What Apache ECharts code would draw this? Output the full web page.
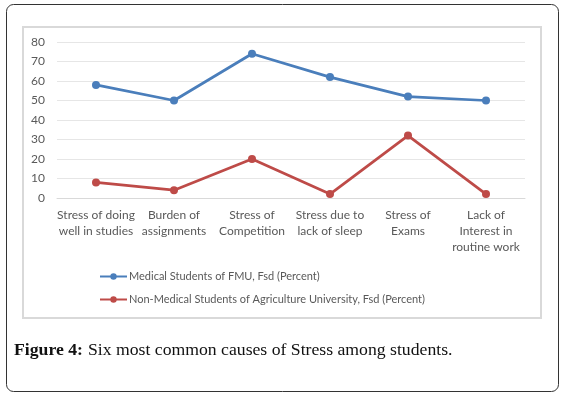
<!DOCTYPE html>
<html><head><meta charset="utf-8">
<script src="https://cdn.jsdelivr.net/npm/echarts@6/dist/echarts.min.js"></script>
<style>html,body{margin:0;padding:0;background:#fff;}#c{width:563px;height:396px;}</style>
</head><body><div id="c"></div>
<script>
const categories = ['Stress of doing\nwell in studies','Burden of\nassignments','Stress of\nCompetition','Stress due to\nlack of sleep','Stress of\nExams','Lack of\nInterest in\nroutine work'];
const medical = [58, 50, 74, 62, 52, 50];
const nonMedical = [8, 4, 20, 2, 32, 2];
const seriesNames = ['Medical Students of FMU, Fsd (Percent)','Non-Medical Students of Agriculture University, Fsd (Percent)'];
const yTicks = {min: 0, max: 80, interval: 10};

const chart = echarts.init(document.getElementById('c'), null, {renderer: 'canvas'});
const labelFont = 'Lato, "Open Sans", sans-serif';
chart.setOption({
  animation: false,
  graphic: [
    {type: 'rect', shape: {x: 6.5, y: 4.5, width: 552, height: 387, r: 7}, style: {fill: 'none', stroke: '#333', lineWidth: 1}, z: 0},
    {type: 'rect', shape: {x: 23, y: 27, width: 518, height: 291}, style: {fill: '#fff', stroke: '#d9d9d9', lineWidth: 2}, z: 0}
  ],
  title: {
    text: '{b|Figure 4:} {r|Six most common causes of Stress among students.}',
    left: 9, top: 336,
    textStyle: {fontWeight: 'normal', rich: {
      b: {fontFamily: '"Liberation Serif", serif', fontWeight: 'bold', fontSize: 17.7, color: '#111'},
      r: {fontFamily: '"Liberation Serif", serif', fontWeight: 'normal', fontSize: 17.7, color: '#111'}
    }}
  },
  grid: {left: 57, right: 38, top: 42, bottom: 198, containLabel: false},
  legend: {
    orient: 'vertical', left: 94, top: 266, itemGap: 12, itemWidth: 27, itemHeight: 8,
    textStyle: {fontFamily: labelFont, fontSize: 11, color: '#595959', padding: [0,0,0,-3]},
    data: seriesNames
  },
  xAxis: {
    type: 'category', data: categories, boundaryGap: true,
    axisLine: {lineStyle: {color: '#d9d9d9'}}, axisTick: {show: false},
    axisLabel: {interval: 0, color: '#595959', fontFamily: labelFont, fontSize: 12, lineHeight: 16, margin: 9}
  },
  yAxis: {
    type: 'value', min: yTicks.min, max: yTicks.max, interval: yTicks.interval,
    axisLine: {show: false}, axisTick: {show: false},
    splitLine: {lineStyle: {color: '#e6e6e6'}},
    axisLabel: {color: '#595959', fontFamily: labelFont, fontSize: 12, margin: 12}
  },
  series: [
    {name: seriesNames[0], type: 'line', data: medical, symbol: 'circle', symbolSize: 8,
     lineStyle: {color: '#4a7ebb', width: 2.75}, itemStyle: {color: '#4a7ebb'}},
    {name: seriesNames[1], type: 'line', data: nonMedical, symbol: 'circle', symbolSize: 8,
     lineStyle: {color: '#be4b48', width: 2.75}, itemStyle: {color: '#be4b48'}}
  ]
});
</script></body></html>
